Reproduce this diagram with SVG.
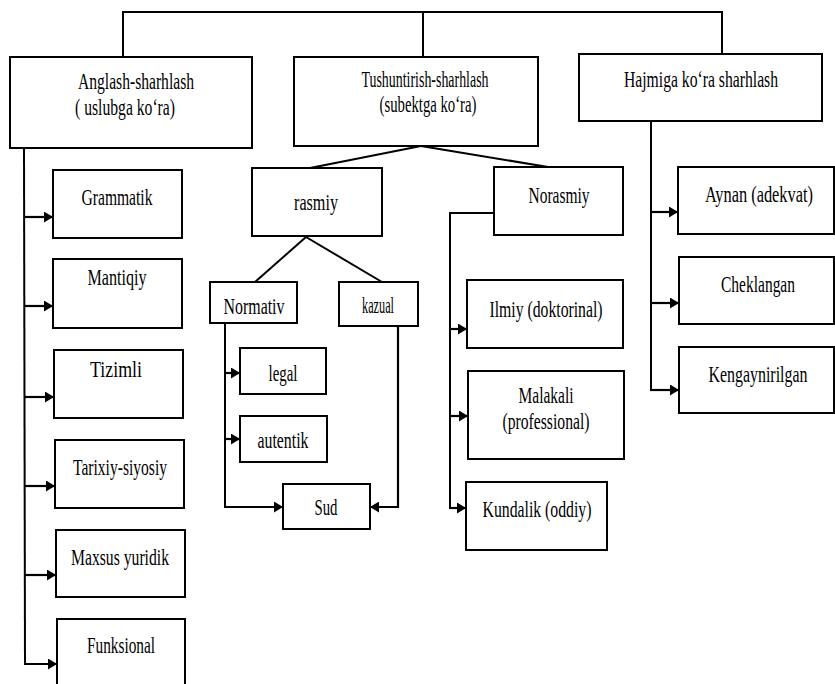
<svg xmlns="http://www.w3.org/2000/svg" width="835" height="684" viewBox="0 0 835 684">
<style>
.box{fill:#fff;stroke:#000;stroke-width:2}
.ln{fill:none;stroke:#000;stroke-width:2}
.ar{fill:none;stroke:#000;stroke-width:2.2;marker-end:url(#ah)}
text{font-family:"Liberation Serif","DejaVu Serif","Times New Roman",serif;font-size:23px;fill:#000;text-anchor:middle}
.h text{font-size:24px}
</style>
<defs>
<marker id="ah" markerUnits="userSpaceOnUse" viewBox="0 0 9 11" markerWidth="9" markerHeight="11" refX="9" refY="5.5" orient="auto">
<path d="M0,0 L9,5.5 L0,11 z" fill="#000"/>
</marker>
</defs>
<rect width="835" height="684" fill="#fff"/>
<g id="connectors">
<polyline class="ln" points="123,57 123,12 722,12 722,54"/>
<line class="ln" x1="423" y1="12" x2="423" y2="57"/>
<polyline class="ln" points="24,148 25,664"/>
<line class="ar" x1="24" y1="217" x2="53" y2="217"/>
<line class="ar" x1="24" y1="306" x2="53" y2="306"/>
<line class="ar" x1="24" y1="397" x2="54" y2="397"/>
<line class="ar" x1="25" y1="486" x2="55" y2="486"/>
<line class="ar" x1="25" y1="575" x2="56" y2="575"/>
<line class="ar" x1="24" y1="664" x2="57" y2="664"/>
<line class="ln" x1="421" y1="146" x2="310" y2="168"/>
<line class="ln" x1="421" y1="146" x2="548" y2="167"/>
<line class="ln" x1="306" y1="237" x2="255" y2="282"/>
<line class="ln" x1="306" y1="237" x2="382" y2="282"/>
<line class="ln" x1="225" y1="323" x2="225" y2="508"/>
<line class="ar" x1="225" y1="373" x2="240" y2="373"/>
<line class="ar" x1="225" y1="439" x2="240" y2="439"/>
<line class="ar" x1="224" y1="507" x2="283" y2="507"/>
<polyline class="ar" points="398,326 398,507 370,507"/>
<polyline class="ln" points="494,213 450,213 450,509"/>
<line class="ar" x1="450" y1="329" x2="467" y2="329"/>
<line class="ar" x1="450" y1="416" x2="468" y2="416"/>
<line class="ar" x1="449" y1="508" x2="466" y2="508"/>
<line class="ln" x1="651" y1="121" x2="651" y2="391"/>
<line class="ar" x1="651" y1="212" x2="678" y2="212"/>
<line class="ar" x1="651" y1="303" x2="679" y2="303"/>
<line class="ar" x1="650" y1="390" x2="679" y2="390"/>
</g>
<g id="n-anglash" class="h">
<rect class="box" x="10" y="57" width="242" height="91"/>
<text transform="translate(136,89) scale(0.68,1)" textLength="170.6" lengthAdjust="spacingAndGlyphs">Anglash-sharhlash</text>
<text transform="translate(125,115) scale(0.68,1)" textLength="147" lengthAdjust="spacingAndGlyphs">( uslubga ko‘ra)</text>
</g>
<g id="n-tushuntirish" class="h">
<rect class="box" x="294" y="57" width="244" height="89"/>
<text transform="translate(425,87) scale(0.68,1)" textLength="186.8" lengthAdjust="spacingAndGlyphs">Tushuntirish-sharhlash</text>
<text transform="translate(428,112) scale(0.68,1)" textLength="142.6" lengthAdjust="spacingAndGlyphs">(subektga ko‘ra)</text>
</g>
<g id="n-hajmiga" class="h">
<rect class="box" x="579" y="54" width="243" height="67"/>
<text transform="translate(701,87) scale(0.68,1)" textLength="226.5" lengthAdjust="spacingAndGlyphs">Hajmiga ko‘ra sharhlash</text>
</g>
<g id="n-grammatik">
<rect class="box" x="53" y="170" width="129" height="68"/>
<text transform="translate(117,205) scale(0.68,1)" textLength="104.4" lengthAdjust="spacingAndGlyphs">Grammatik</text>
</g>
<g id="n-mantiqiy">
<rect class="box" x="53" y="259" width="129" height="69"/>
<text transform="translate(117,285) scale(0.68,1)" textLength="86.8" lengthAdjust="spacingAndGlyphs">Mantiqiy</text>
</g>
<g id="n-tizimli">
<rect class="box" x="54" y="350" width="129" height="68"/>
<text transform="translate(116,377) scale(0.68,1)" textLength="76.5" lengthAdjust="spacingAndGlyphs">Tizimli</text>
</g>
<g id="n-tarixiy">
<rect class="box" x="55" y="440" width="129" height="68"/>
<text transform="translate(120,475) scale(0.68,1)" textLength="138.2" lengthAdjust="spacingAndGlyphs">Tarixiy-siyosiy</text>
</g>
<g id="n-maxsus">
<rect class="box" x="56" y="530" width="129" height="67"/>
<text transform="translate(120,565) scale(0.68,1)" textLength="144.1" lengthAdjust="spacingAndGlyphs">Maxsus yuridik</text>
</g>
<g id="n-funksional">
<rect class="box" x="57" y="619" width="128" height="72"/>
<text transform="translate(121,653) scale(0.68,1)" textLength="100" lengthAdjust="spacingAndGlyphs">Funksional</text>
</g>
<g id="n-rasmiy">
<rect class="box" x="252" y="168" width="130" height="68"/>
<text transform="translate(316,210) scale(0.68,1)" textLength="64.7" lengthAdjust="spacingAndGlyphs">rasmiy</text>
</g>
<g id="n-normativ">
<rect class="box" x="210" y="282" width="87" height="41"/>
<text transform="translate(254,314) scale(0.68,1)" textLength="89.7" lengthAdjust="spacingAndGlyphs">Normativ</text>
</g>
<g id="n-kazual">
<rect class="box" x="339" y="282" width="79" height="44"/>
<text transform="translate(378,313) scale(0.68,1)" textLength="47.1" lengthAdjust="spacingAndGlyphs">kazual</text>
</g>
<g id="n-legal">
<rect class="box" x="240" y="348" width="86" height="46"/>
<text transform="translate(283,381) scale(0.68,1)" textLength="42.6" lengthAdjust="spacingAndGlyphs">legal</text>
</g>
<g id="n-autentik">
<rect class="box" x="240" y="416" width="87" height="46"/>
<text transform="translate(283,448) scale(0.68,1)" textLength="75" lengthAdjust="spacingAndGlyphs">autentik</text>
</g>
<g id="n-sud">
<rect class="box" x="283" y="484" width="87" height="45"/>
<text transform="translate(326,515) scale(0.68,1)" textLength="33.8" lengthAdjust="spacingAndGlyphs">Sud</text>
</g>
<g id="n-norasmiy">
<rect class="box" x="494" y="167" width="129" height="68"/>
<text transform="translate(559,203) scale(0.68,1)" textLength="89.7" lengthAdjust="spacingAndGlyphs">Norasmiy</text>
</g>
<g id="n-ilmiy">
<rect class="box" x="467" y="280" width="156" height="68"/>
<text transform="translate(546,317) scale(0.68,1)" textLength="166.2" lengthAdjust="spacingAndGlyphs">Ilmiy (doktorinal)</text>
</g>
<g id="n-malakali">
<rect class="box" x="468" y="371" width="156" height="88"/>
<text transform="translate(546,403) scale(0.68,1)" textLength="80.9" lengthAdjust="spacingAndGlyphs">Malakali</text>
<text transform="translate(546,429) scale(0.68,1)" textLength="127.9" lengthAdjust="spacingAndGlyphs">(professional)</text>
</g>
<g id="n-kundalik">
<rect class="box" x="466" y="482" width="141" height="68"/>
<text transform="translate(537,517) scale(0.68,1)" textLength="160.3" lengthAdjust="spacingAndGlyphs">Kundalik (oddiy)</text>
</g>
<g id="n-aynan">
<rect class="box" x="678" y="167" width="156" height="67"/>
<text transform="translate(759,202) scale(0.68,1)" textLength="158.8" lengthAdjust="spacingAndGlyphs">Aynan (adekvat)</text>
</g>
<g id="n-cheklangan">
<rect class="box" x="679" y="257" width="155" height="67"/>
<text transform="translate(758,292) scale(0.68,1)" textLength="108.8" lengthAdjust="spacingAndGlyphs">Cheklangan</text>
</g>
<g id="n-kengaynirilgan">
<rect class="box" x="679" y="347" width="155" height="66"/>
<text transform="translate(758,382) scale(0.68,1)" textLength="145.6" lengthAdjust="spacingAndGlyphs">Kengaynirilgan</text>
</g>
</svg>
